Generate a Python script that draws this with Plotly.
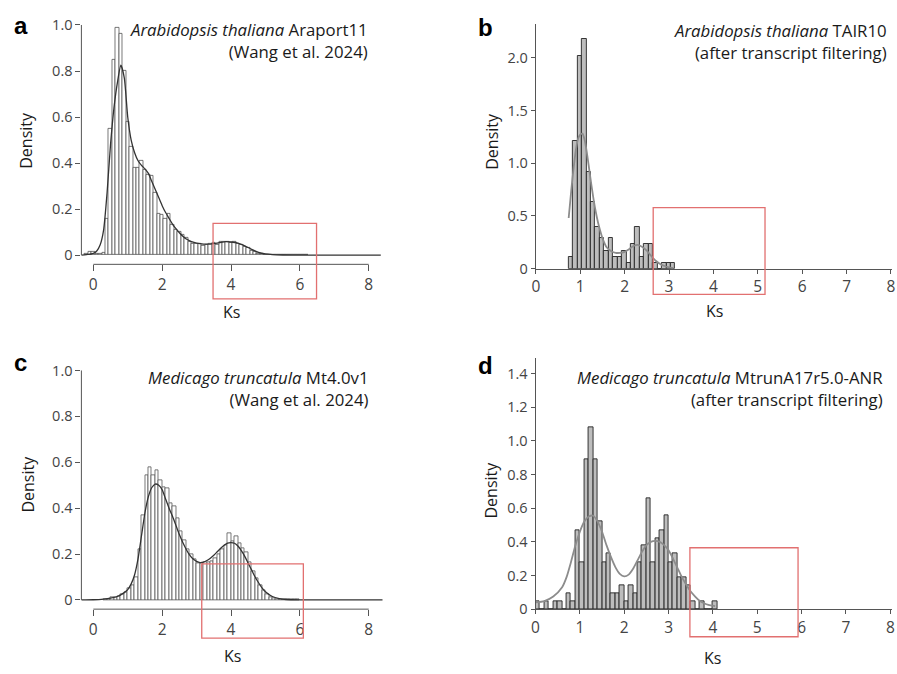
import numpy as np
import plotly.graph_objects as go

W, H = 897, 674

# ---------------- data ----------------
# Panel a: Arabidopsis thaliana Araport11 (bin width 0.1, first bin left edge -0.25)
a_bin_start = -0.25
a_bin_width = 0.1
a_density = [0.004, 0.013, 0.016, 0.008, 0.006, 0.012, 0.16, 0.55, 0.85, 0.99,
             0.96, 0.80, 0.58, 0.47, 0.38, 0.38, 0.41, 0.37, 0.35, 0.345,
             0.27, 0.18, 0.177, 0.16, 0.18, 0.134, 0.11, 0.10, 0.09, 0.077,
             0.06, 0.05, 0.048, 0.05, 0.041, 0.043, 0.048, 0.055, 0.045, 0.058,
             0.058, 0.058, 0.052, 0.06, 0.05, 0.045, 0.035, 0.03, 0.02, 0.015,
             0.008, 0.004, 0.003, 0.002, 0.001, 0.002, 0.001, 0.002, 0.001, 0.002,
             0.001, 0.002, 0.001, 0.002, 0.001]
a_kde_x = [-0.35, -0.2, 0.0, 0.1, 0.2, 0.3, 0.4, 0.5, 0.6, 0.7, 0.8, 0.9, 1.0, 1.1,
           1.2, 1.3, 1.4, 1.5, 1.6, 1.7, 1.8, 1.9, 2.0, 2.1, 2.2, 2.3, 2.4, 2.5,
           2.6, 2.7, 2.8, 2.9, 3.0, 3.2, 3.4, 3.6, 3.8, 4.0, 4.2, 4.4, 4.6, 4.8,
           5.0, 5.2, 5.5, 6.0, 8.35]
a_kde_y = [0.0, 0.002, 0.008, 0.018, 0.045, 0.11, 0.27, 0.48, 0.64, 0.75, 0.825, 0.77,
           0.60, 0.50, 0.445, 0.41, 0.39, 0.375, 0.355, 0.32, 0.285, 0.25, 0.215,
           0.185, 0.16, 0.135, 0.115, 0.097, 0.082, 0.07, 0.062, 0.056, 0.052,
           0.048, 0.048, 0.052, 0.058, 0.057, 0.052, 0.04, 0.025, 0.012, 0.005,
           0.002, 0.0005, 0.0, 0.0]

# Panel b: Arabidopsis thaliana TAIR10 (bin width 0.1, first bin left edge 0.74)
b_bin_start = 0.74
b_bin_width = 0.1
b_density = [0.115, 1.21, 2.02, 2.18, 0.92, 0.63, 0.40, 0.29, 0.17, 0.29,
             0.115, 0.115, 0.17, 0.056, 0.23, 0.40, 0.115, 0.23, 0.23, 0.056,
             0.0, 0.056, 0.056, 0.056]
b_kde_x = [0.74, 0.8, 0.85, 0.9, 0.95, 1.0, 1.05, 1.1, 1.15, 1.2, 1.25, 1.3, 1.35,
           1.4, 1.45, 1.5, 1.6, 1.7, 1.8, 1.9, 2.0, 2.1, 2.2, 2.3, 2.4, 2.5, 2.6,
           2.7, 2.8, 2.9, 3.0, 3.1]
b_kde_y = [0.48, 0.75, 0.95, 1.12, 1.23, 1.27, 1.28, 1.22, 1.10, 0.95, 0.80, 0.66,
           0.54, 0.44, 0.36, 0.29, 0.20, 0.165, 0.15, 0.15, 0.16, 0.185, 0.215, 0.225,
           0.205, 0.17, 0.12, 0.075, 0.045, 0.025, 0.012, 0.005]

# Panel c: Medicago truncatula Mt4.0v1 (bin width 0.1, first bin left edge 0.3)
c_bin_start = 0.3
c_bin_width = 0.1
c_density = [0.002, 0.004, 0.01, 0.012, 0.017, 0.023, 0.034, 0.049, 0.066, 0.10,
             0.22, 0.37, 0.545, 0.58, 0.545, 0.565, 0.52, 0.49, 0.485, 0.42,
             0.41, 0.355, 0.30, 0.26, 0.22, 0.20, 0.177, 0.16, 0.16, 0.163,
             0.165, 0.17, 0.18, 0.20, 0.22, 0.24, 0.289, 0.256, 0.277, 0.246,
             0.227, 0.206, 0.163, 0.123, 0.094, 0.063, 0.041, 0.023, 0.013, 0.006,
             0.004, 0.003, 0.002, 0.001, 0.002, 0.001, 0.001]
c_kde_x = [-0.35, 0.0, 0.3, 0.5, 0.7, 0.9, 1.0, 1.1, 1.2, 1.3, 1.4, 1.5, 1.6, 1.7,
           1.8, 1.9, 2.0, 2.1, 2.2, 2.3, 2.4, 2.5, 2.6, 2.7, 2.8, 2.9, 3.0, 3.1,
           3.2, 3.3, 3.4, 3.5, 3.6, 3.7, 3.8, 3.9, 4.0, 4.1, 4.2, 4.3, 4.4, 4.5,
           4.6, 4.7, 4.8, 4.9, 5.0, 5.2, 5.4, 5.6, 6.0, 8.4]
c_kde_y = [0.0, 0.001, 0.004, 0.008, 0.015, 0.032, 0.045, 0.07, 0.11, 0.18, 0.28,
           0.38, 0.45, 0.49, 0.505, 0.50, 0.48, 0.44, 0.40, 0.365, 0.325, 0.285,
           0.25, 0.22, 0.195, 0.178, 0.168, 0.163, 0.165, 0.172, 0.182, 0.195,
           0.21, 0.225, 0.238, 0.248, 0.25, 0.247, 0.235, 0.215, 0.19, 0.16, 0.13,
           0.10, 0.075, 0.053, 0.036, 0.015, 0.006, 0.002, 0.0005, 0.0]

# Panel d: Medicago truncatula MtrunA17r5.0-ANR (bin width 0.1, first bin left edge 0.0)
d_bin_start = 0.0
d_bin_width = 0.1
d_density = [0.047, 0.0, 0.047, 0.0, 0.047, 0.047, 0.0, 0.094, 0.047, 0.47,
             0.28, 0.89, 1.08, 0.89, 0.52, 0.28, 0.33, 0.094, 0.094, 0.14,
             0.047, 0.14, 0.094, 0.28, 0.38, 0.66, 0.28, 0.42, 0.47, 0.56,
             0.28, 0.33, 0.19, 0.19, 0.14, 0.047, 0.0, 0.047, 0.0, 0.0, 0.047]
d_kde_x = [0.0, 0.2, 0.4, 0.6, 0.7, 0.8, 0.9, 1.0, 1.1, 1.2, 1.3, 1.4, 1.5, 1.6,
           1.7, 1.8, 1.9, 2.0, 2.1, 2.2, 2.3, 2.4, 2.5, 2.6, 2.7, 2.8, 2.9, 3.0,
           3.1, 3.2, 3.3, 3.4, 3.5, 3.6, 3.7, 3.8, 3.9, 4.05]
d_kde_y = [0.04, 0.048, 0.075, 0.13, 0.19, 0.28, 0.38, 0.46, 0.52, 0.55, 0.555, 0.52,
           0.46, 0.38, 0.31, 0.25, 0.21, 0.195, 0.205, 0.24, 0.29, 0.34, 0.38, 0.40,
           0.405, 0.40, 0.38, 0.35, 0.30, 0.245, 0.19, 0.145, 0.105, 0.075, 0.05,
           0.035, 0.025, 0.018]

a_yticks = [0, 0.2, 0.4, 0.6, 0.8, 1.0]
a_yticklabels = ["0", "0.2", "0.4", "0.6", "0.8", "1.0"]
b_yticks = [0, 0.5, 1.0, 1.5, 2.0]
b_yticklabels = ["0", "0.5", "1.0", "1.5", "2.0"]
d_yticks = [0, 0.2, 0.4, 0.6, 0.8, 1.0, 1.2, 1.4]
d_yticklabels = ["0", "0.2", "0.4", "0.6", "0.8", "1.0", "1.2", "1.4"]
ac_xticks = [0, 2, 4, 6, 8]
bd_xticks = [0, 1, 2, 3, 4, 5, 6, 7, 8]

titles = [
    ("<i>Arabidopsis thaliana</i> Araport11", "(Wang et al. 2024)"),
    ("<i>Arabidopsis thaliana</i> TAIR10", "(after transcript filtering)"),
    ("<i>Medicago truncatula</i> Mt4.0v1", "(Wang et al. 2024)"),
    ("<i>Medicago truncatula</i> MtrunA17r5.0-ANR", "(after transcript filtering)"),
]
letters = ["a", "b", "c", "d"]

# ---------------- helpers ----------------
def px(x):
    return x / W


def py(y):
    return 1 - y / H


FONT = "Open Sans"
TXT = "#1a1a1a"
TICK = "#444444"
AX = "#555555"
RED = "rgb(226,112,112)"

fig = go.Figure()


def centers(start, width, vals):
    return list(start + width * (np.arange(len(vals)) + 0.5))


def add_hist(vals, start, width, xa, ya, fill, edge, lw):
    fig.add_trace(go.Bar(x=centers(start, width, vals), y=vals, width=width,
                         marker=dict(color=fill, line=dict(color=edge, width=lw)),
                         xaxis=xa, yaxis=ya, showlegend=False, hoverinfo="skip"))


def add_kde(xs, ys, xa, ya, color, lw):
    fig.add_trace(go.Scatter(x=xs, y=ys, mode="lines",
                             line=dict(color=color, width=lw, shape="spline", smoothing=0.6),
                             xaxis=xa, yaxis=ya, showlegend=False, hoverinfo="skip"))


add_hist(a_density, a_bin_start, a_bin_width, "x", "y", "white", "#555555", 0.8)
add_kde(a_kde_x, a_kde_y, "x", "y", "#333333", 1.3)
add_hist(b_density, b_bin_start, b_bin_width, "x2", "y2", "#bdbdbd", "#222222", 0.9)
add_kde(b_kde_x, b_kde_y, "x2", "y2", "#8c8c8c", 1.8)
add_hist(c_density, c_bin_start, c_bin_width, "x3", "y3", "white", "#555555", 0.8)
add_kde(c_kde_x, c_kde_y, "x3", "y3", "#333333", 1.3)
add_hist(d_density, d_bin_start, d_bin_width, "x4", "y4", "#bdbdbd", "#222222", 0.9)
add_kde(d_kde_x, d_kde_y, "x4", "y4", "#8c8c8c", 1.8)

tickfont = dict(family=FONT, size=14.5, color=TICK)


def xax(dom, rng, ticks, line, anchor):
    return dict(domain=[px(dom[0]), px(dom[1])], range=rng, anchor=anchor,
                tickvals=ticks, ticktext=[str(t) for t in ticks], ticks="outside",
                ticklen=6 if not line else 4, tickcolor=AX, tickwidth=1,
                showline=line, linecolor=AX, linewidth=1, showgrid=False,
                zeroline=False, ticklabeloverflow="allow",
                tickfont=dict(family=FONT, size=15.5, color=TICK))


def yax(dom, rng, ticks, labels, line, anchor):
    return dict(domain=[py(dom[1]), py(dom[0])], range=rng, anchor=anchor,
                tickvals=ticks, ticktext=labels, ticks="outside",
                ticklen=5 if not line else 4, tickcolor=AX, tickwidth=1,
                showline=line, linecolor=AX, linewidth=1, showgrid=False,
                zeroline=False, ticklabeloverflow="allow", tickfont=tickfont)


# pixel layout of each panel: (x-domain px), (y-domain px top, bottom)
A_X, A_Y = (78, 382), (15, 267.3)
B_X, B_Y = (536, 895.3), (23.3, 271.7)
C_X, C_Y = (78, 382), (365.7, 617.3)
D_X, D_Y = (535.7, 895.3), (362.7, 617.3)

fig.update_layout(
    xaxis=xax(A_X, [-0.346, 8.415], ac_xticks, False, "y"),
    yaxis=yax(A_Y, [-0.04, 1.04], a_yticks, a_yticklabels, False, "x"),
    xaxis2=xax(B_X, [0, 8.03], bd_xticks, True, "y2"),
    yaxis2=yax(B_Y, [0, 2.32], b_yticks, b_yticklabels, True, "x2"),
    xaxis3=xax(C_X, [-0.346, 8.415], ac_xticks, False, "y3"),
    yaxis3=yax(C_Y, [-0.04, 1.04], a_yticks, a_yticklabels, False, "x3"),
    xaxis4=xax(D_X, [0, 8.045], bd_xticks, True, "y4"),
    yaxis4=yax(D_Y, [0, 1.49], d_yticks, d_yticklabels, True, "x4"),
)

shapes = []
# detached R-style axis lines for panels a and c
for xr, yr, ytop_px, ybot_px, xleft_px in [("x", "y", A_Y[0], A_Y[1], A_X[0]),
                                           ("x3", "y3", C_Y[0], C_Y[1], C_X[0])]:
    shapes.append(dict(type="line", xref=xr, yref="paper", x0=0, x1=8,
                       y0=py(ybot_px), y1=py(ybot_px), line=dict(color=AX, width=1)))
    shapes.append(dict(type="line", xref="paper", yref=yr, x0=px(xleft_px), x1=px(xleft_px),
                       y0=0, y1=1.0, line=dict(color=AX, width=1)))

# red highlight rectangles (pixel boxes)
red_boxes = [(210.7, 225.7, 315, 302.3), (654.3, 209.7, 767, 297.7),
             (199.3, 571.3, 301.7, 646.7), (691.3, 555, 800.3, 645.3)]
for (x0, y0, x1, y1) in red_boxes:
    shapes.append(dict(type="rect", xref="paper", yref="paper", x0=px(x0), x1=px(x1),
                       y0=py(y1), y1=py(y0), line=dict(color=RED, width=1.3)))
fig.update_layout(shapes=shapes)

ann = []
letter_pos = [(8, 25), (476, 27), (8, 367), (476, 370)]
for l, (x, y) in zip(letters, letter_pos):
    ann.append(dict(text=l, x=px(x), y=py(y), xref="paper", yref="paper",
                    xanchor="left", yanchor="middle", showarrow=False,
                    font=dict(family="Liberation Sans", size=24, color="#000000", weight="bold")))

title_pos = [(369, 40.5), (892, 41), (370, 393.5), (887.5, 393.5)]
for (l1, l2), (x, y) in zip(titles, title_pos):
    ann.append(dict(text=l1 + "<br>" + l2, x=px(x), y=py(y), xref="paper", yref="paper",
                    xanchor="right", yanchor="middle", align="right", showarrow=False,
                    font=dict(family=FONT, size=16.8, color=TXT)))

dens_pos = [(22, 141), (491.7, 142), (24, 490), (491, 496.7)]
for (x, y) in dens_pos:
    ann.append(dict(text="Density", x=px(x), y=py(y), xref="paper", yref="paper",
                    xanchor="center", yanchor="middle", textangle=-90, showarrow=False,
                    font=dict(family=FONT, size=16, color=TXT)))
ks_pos = [(229, 316), (716, 315), (230, 665), (714, 666.7)]
for (x, y) in ks_pos:
    ann.append(dict(text="Ks", x=px(x), y=py(y), xref="paper", yref="paper",
                    xanchor="center", yanchor="middle", showarrow=False,
                    font=dict(family=FONT, size=16, color=TXT)))
fig.update_layout(annotations=ann)

fig.update_layout(width=W, height=H, autosize=False,
                  margin=dict(l=0, r=0, t=0, b=0, pad=0),
                  paper_bgcolor="white", plot_bgcolor="white",
                  bargap=0, showlegend=False)

fig.write_html("out.html", config={"displayModeBar": False},
               post_script="document.body.style.margin='0';document.body.style.overflow='hidden';")
